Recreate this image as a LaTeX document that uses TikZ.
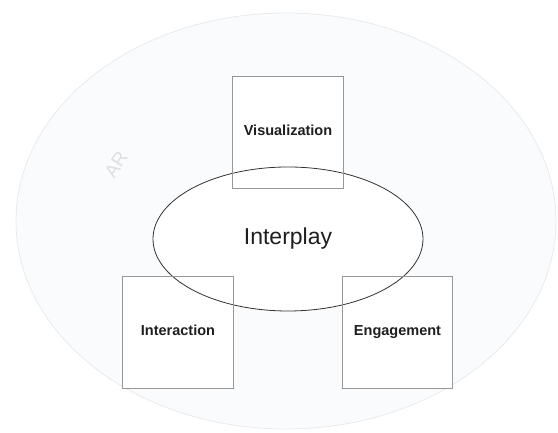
\documentclass[tikz,border=0pt]{standalone}
\usepackage{fontspec}
\setmainfont{Liberation Sans}
\usetikzlibrary{shapes.geometric}
\definecolor{regionfill}{HTML}{F9FBFD}
\definecolor{regionline}{HTML}{E8EBEE}
\definecolor{boxline}{HTML}{979797}
\definecolor{arlabel}{HTML}{DDE0E3}
\begin{document}
\begin{tikzpicture}[x=1pt,y=1pt,
  region/.style={draw=regionline, fill=regionfill, line width=0.8pt},
  facet/.style={rectangle, draw=none, fill=white,
    minimum width=110pt, minimum height=111pt, inner sep=0pt,
    text height=0.72em, text depth=0.21em,
    font=\fontsize{14.5}{16}\selectfont\bfseries, text=black!88},
  hub/.style={ellipse, draw=black!80, fill=white, line width=0.8pt,
    minimum width=270pt, minimum height=144pt, inner sep=0pt,
    font=\fontsize{23}{26}\selectfont, text=black!88},
  outline/.style={draw=boxline, line width=0.8pt}]
  \useasboundingbox (0,0) rectangle (558,433);
  % outer AR region
  \path[region] (286,212) ellipse [x radius=270, y radius=208];
  \node[rotate=57, text=arlabel, inner sep=0pt, font=\fontsize{19}{21}\selectfont] (arlbl) at (116,268) {AR};
  % the three facets
  \node[facet] (vis) at (288,300.5) {Visualization};
  \node[facet] (inter) at (178,100.5) {Interaction};
  \node[facet] (eng) at (397.5,100.5) {Engagement};
  % central interplay ellipse
  \node[hub] (ip) at (288,194) {Interplay};
  % box outlines stay visible across the ellipse
  \draw[outline] (vis.south west) rectangle (vis.north east);
  \draw[outline] (inter.south west) rectangle (inter.north east);
  \draw[outline] (eng.south west) rectangle (eng.north east);
\end{tikzpicture}
\end{document}
